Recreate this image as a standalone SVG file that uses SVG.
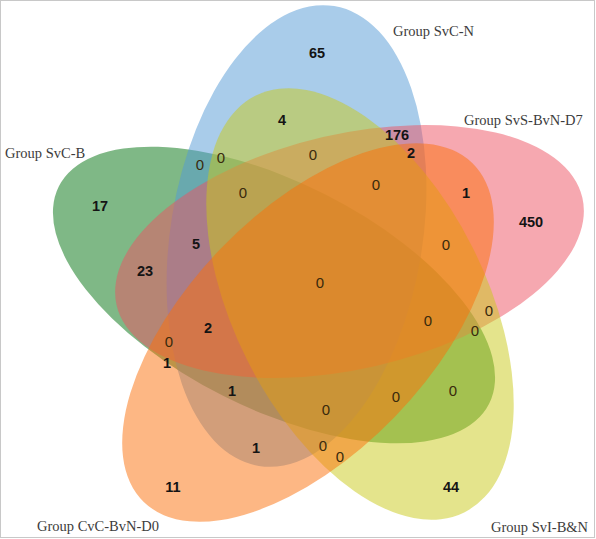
<svg xmlns="http://www.w3.org/2000/svg" width="596" height="539" viewBox="0 0 596 539">
<style>
.set{opacity:0.5}
.lbl{font-family:"Liberation Serif",serif;font-size:14.5px;fill:#3c3c3c}
.n{font-family:"Liberation Sans",Arial,sans-serif;font-size:14.5px;font-weight:bold;fill:#141414;text-anchor:middle}
.z{font-family:"Liberation Sans",Arial,sans-serif;font-size:15px;fill:#3a2a0c;text-anchor:middle}
</style>
<rect x="0.5" y="0.5" width="594" height="537" fill="#ffffff" stroke="#c8c8c8" stroke-width="1"/>
<g id="sets">
<g id="set-SvC-B"><ellipse class="set" cx="274" cy="295" rx="113" ry="241" transform="rotate(-63.2 274 295)" fill="#00710d"/></g>
<g id="set-SvC-N"><ellipse class="set" cx="296.5" cy="236" rx="126" ry="233" transform="rotate(9.3 296.5 236)" fill="#5399d5"/></g>
<g id="set-SvS-BvN-D7"><ellipse class="set" cx="349.5" cy="251.5" rx="117.5" ry="239" transform="rotate(77 349.5 251.5)" fill="#ed5161"/></g>
<g id="set-SvI-BN"><ellipse class="set" cx="360" cy="304" rx="126" ry="233" transform="rotate(-26.7 360 304)" fill="#c9c919"/></g>
<g id="set-CvC-BvN-D0"><ellipse class="set" cx="308" cy="332.5" rx="121" ry="236" transform="rotate(44.1 308 332.5)" fill="#fb6f09"/></g>
</g>
<g id="connectors"></g>
<g id="labels">
<text class="lbl" x="393" y="36">Group SvC-N</text>
<text class="lbl" x="464" y="125">Group SvS-BvN-D7</text>
<text class="lbl" x="5" y="158">Group SvC-B</text>
<text class="lbl" x="37" y="531">Group CvC-BvN-D0</text>
<text class="lbl" x="491" y="532">Group SvI-B&amp;N</text>
</g>
<g id="counts">
<text class="n" x="317" y="58">65</text>
<text class="n" x="282" y="125">4</text>
<text class="n" x="397" y="140">176</text>
<text class="n" x="411" y="158">2</text>
<text class="n" x="466" y="198">1</text>
<text class="n" x="531" y="227">450</text>
<text class="z" x="446" y="250">0</text>
<text class="z" x="313" y="160">0</text>
<text class="z" x="376" y="190">0</text>
<text class="z" x="200" y="170">0</text>
<text class="z" x="221" y="163">0</text>
<text class="z" x="243" y="198">0</text>
<text class="n" x="100" y="211">17</text>
<text class="n" x="196" y="249">5</text>
<text class="n" x="145" y="276">23</text>
<text class="z" x="320" y="288">0</text>
<text class="n" x="208" y="333">2</text>
<text class="z" x="169" y="347">0</text>
<text class="n" x="167" y="368">1</text>
<text class="n" x="232" y="396">1</text>
<text class="n" x="256" y="453">1</text>
<text class="n" x="173" y="492">11</text>
<text class="z" x="428" y="326">0</text>
<text class="z" x="475" y="336">0</text>
<text class="z" x="489" y="316">0</text>
<text class="z" x="453" y="396">0</text>
<text class="z" x="396" y="402">0</text>
<text class="z" x="326" y="415">0</text>
<text class="z" x="323" y="451">0</text>
<text class="z" x="340" y="462">0</text>
<text class="n" x="451" y="492">44</text>
</g>
</svg>
